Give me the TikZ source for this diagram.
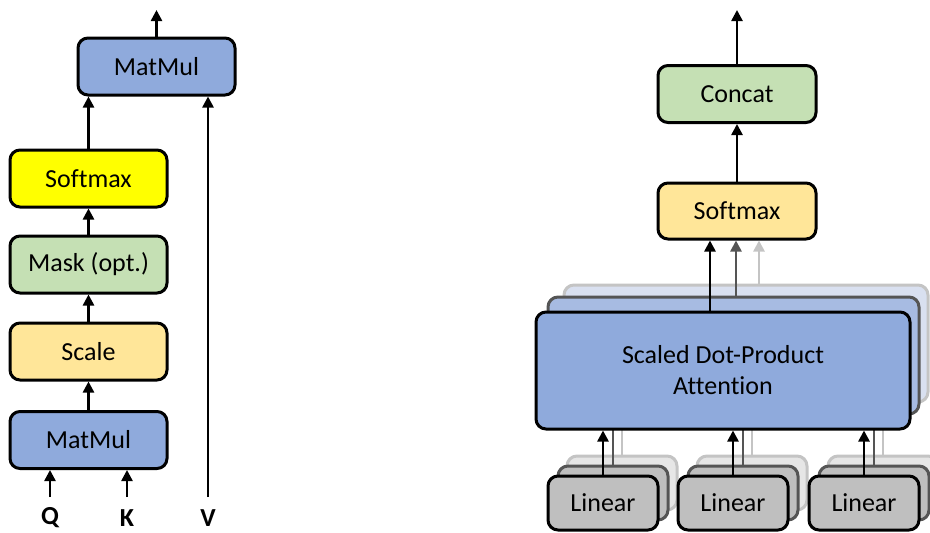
\documentclass[tikz,border=0pt]{standalone}
\usepackage{fontspec}
\setmainfont{Carlito}[Ligatures=NoCommon]
\usetikzlibrary{arrows.meta}
\definecolor{cblue}{HTML}{8FAADC}
\definecolor{cblueM}{HTML}{A7BBE2}
\definecolor{cblueB}{HTML}{D9E0F0}
\definecolor{cyellow}{HTML}{FFFF00}
\definecolor{cgreen}{HTML}{C5E0B4}
\definecolor{corange}{HTML}{FFE699}
\definecolor{cgray}{HTML}{BFBFBF}
\definecolor{cgrayB}{HTML}{E6E6E6}
\definecolor{lineL}{HTML}{C4C4C4}
\definecolor{lineD}{HTML}{555555}
\tikzset{
  box/.style={draw=black, line width=3pt, rounded corners=10pt, inner sep=0pt,
    align=center, font=\fontsize{26}{31}\selectfont},
  boxM/.style={box, draw=lineD},
  boxB/.style={box, draw=lineL},
  arr/.style={line width=2.5pt, -{Triangle[length=11pt,width=11pt]}},
  arrD/.style={arr, draw=lineD, fill=lineD},
  arrL/.style={arr, draw=lineL, fill=lineL},
  lbl/.style={font=\fontsize{26}{28}\selectfont\bfseries},
}
\begin{document}
\begin{tikzpicture}[x=1pt,y=-1pt]
\useasboundingbox (0,0) rectangle (930,533);
% ---------- left: scaled dot-product attention ----------
\node[box, fill=cblue, minimum width=157, minimum height=57] (mm2) at (156.5,66.5) {MatMul};
\node[box, fill=cyellow, minimum width=157, minimum height=57] (smx1) at (88.5,178.5) {Softmax};
\node[box, fill=cgreen, minimum width=157, minimum height=57] (mask) at (88.5,264.5) {Mask (opt.)};
\node[box, fill=corange, minimum width=157, minimum height=57] (scale) at (88.5,351.5) {Scale};
\node[box, fill=cblue, minimum width=157, minimum height=57] (mm1) at (88.5,440) {MatMul};
\coordinate (out1) at (156.5,10);
\coordinate (q) at (50,497);
\coordinate (k) at (127,497);
\coordinate (v) at (208,497);
\node[lbl] (ql) at (50,518) {Q};
\node[lbl] (kl) at (127,518) {K};
\node[lbl] (vl) at (208,518) {V};
\draw[arr] (mm2.north) -- (out1);
\draw[arr] (smx1.north) -- (smx1.north |- mm2.south);
\draw[arr] (mask.north) -- (smx1.south);
\draw[arr] (scale.north) -- (mask.south);
\draw[arr] (mm1.north) -- (scale.south);
\draw[arr] (q) -- (q |- mm1.south);
\draw[arr] (k) -- (k |- mm1.south);
\draw[arr] (v) -- (v |- mm2.south);
% ---------- right: multi-head attention ----------
\node[box, fill=cgreen, minimum width=158, minimum height=57] (concat) at (737,94) {Concat};
\node[box, fill=corange, minimum width=158, minimum height=56] (smx2) at (737,211) {Softmax};
\coordinate (out2) at (737,10);
\draw[arr] (concat.north) -- (out2);
\draw[arr] (smx2.north) -- (concat.south);
% back layer
\node[boxB, fill=cblueB, minimum width=364, minimum height=117] (attB) at (746,343.5) {};
\foreach \i/\x in {1/622,2/752,3/883}{
  \node[boxB, fill=cgrayB, minimum width=110, minimum height=54] (linB\i) at (\x,483) {};
  \draw[arrL] (linB\i.north) -- (linB\i.north |- attB.south);
}
\coordinate (pB) at (759,284);
\draw[arrL] (pB) -- (pB |- smx2.south);
% middle layer
\node[boxM, fill=cblueM, minimum width=371, minimum height=117] (attM) at (733.5,355.5) {};
\foreach \i/\x in {1/613,2/743,3/874}{
  \node[boxM, fill=cgray, minimum width=110, minimum height=54] (linM\i) at (\x,493) {};
  \draw[arrD] (linM\i.north) -- (linM\i.north |- attM.south);
}
\coordinate (pM) at (736,296);
\draw[arrD] (pM) -- (pM |- smx2.south);
% front layer
\node[box, fill=cblue, minimum width=374, minimum height=117] (attF) at (723,370.5) {Scaled Dot-Product\\Attention};
\foreach \i/\x in {1/603,2/733,3/864}{
  \node[box, fill=cgray, minimum width=110, minimum height=54] (linF\i) at (\x,503) {Linear};
  \draw[arr] (linF\i.north) -- (linF\i.north |- attF.south);
}
\coordinate (pF) at (710,311);
\draw[arr] (pF) -- (pF |- smx2.south);
\end{tikzpicture}
\end{document}
